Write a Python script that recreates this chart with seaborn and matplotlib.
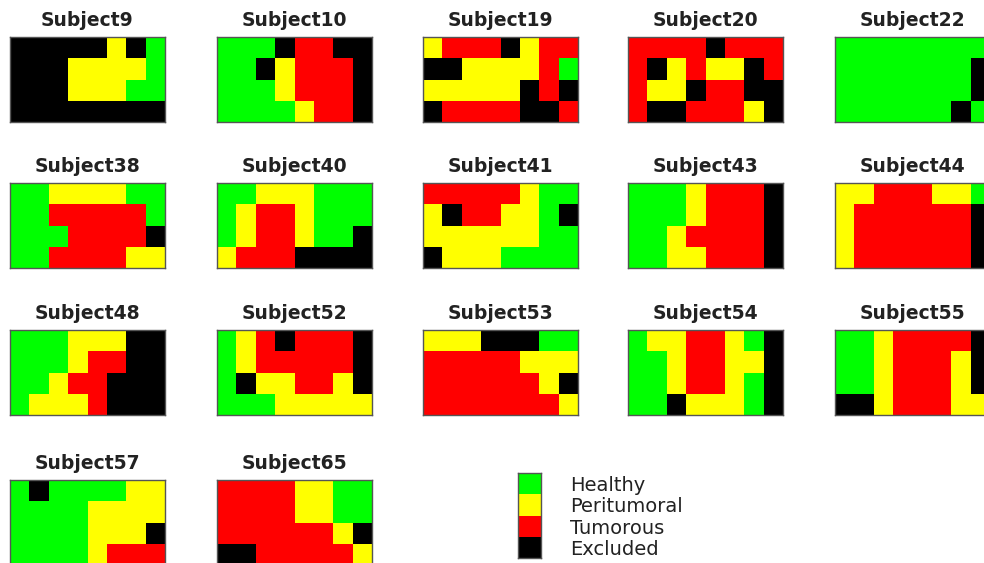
import numpy as np
import matplotlib
matplotlib.use("Agg")
import matplotlib.pyplot as plt
from matplotlib.colors import ListedColormap
import seaborn as sns

sns.set_style("white")
plt.rcParams["font.family"] = ["DejaVu Sans"]

# Tissue classes, in code order 0..3
classes = ["Healthy", "Peritumoral", "Tumorous", "Excluded"]
class_codes = {"H": 0, "P": 1, "T": 2, "E": 3}
class_colors = ["#00ff00", "#ffff00", "#ff0000", "#000000"]

# Per-subject label maps (4 rows x 8 columns, top row first)
subject9 = ["EEEEEPEH", "EEEPPPPH", "EEEPPPHH", "EEEEEEEE"]
subject10 = ["HHHETTEE", "HHEPTTTE", "HHHPTTTE", "HHHHPTTE"]
subject19 = ["PTTTEPTT", "EEPPPPTH", "PPPPPETE", "ETTTTEET"]
subject20 = ["TTTTETTT", "TEPTPPET", "TPPETTEE", "TEETTTPE"]
subject22 = ["HHHHHHHH", "HHHHHHHE", "HHHHHHHE", "HHHHHHEH"]
subject38 = ["HHPPPPHH", "HHTTTTTH", "HHHTTTTE", "HHTTTTPP"]
subject40 = ["HHPPPHHH", "HPTTPHHH", "HPTTPHHE", "PTTTEEEE"]
subject41 = ["TTTTTPHH", "PETTPPHE", "PPPPPPHH", "EPPPHHHH"]
subject43 = ["HHHPTTTE", "HHHPTTTE", "HHPTTTTE", "HHPPTTTE"]
subject44 = ["PPTTTPPH", "PTTTTTTE", "PTTTTTTE", "PTTTTTTE"]
subject48 = ["HHHPPPEE", "HHHPTTEE", "HHPTTEEE", "HPPPTEEE"]
subject52 = ["HPTETTTE", "HPTTTTTE", "HEPPTTPE", "HHHPPPPP"]
subject53 = ["PPPEEEHH", "TTTTTPPP", "TTTTTTPE", "TTTTTTTP"]
subject54 = ["HPPTTPHE", "HHPTTPPE", "HHPTTPHE", "HHEPPPHE"]
subject55 = ["HHPTTTTE", "HHPTTTPE", "HHPTTTPE", "EEPTTTPP"]
subject57 = ["HEHHHHPP", "HHHHPPPP", "HHHHPPPE", "HHHHPTTT"]
subject65 = ["TTTTPPHH", "TTTTPPHH", "TTTTTTPE", "EETTTTTP"]

subject_names = ["Subject9", "Subject10", "Subject19", "Subject20", "Subject22",
                 "Subject38", "Subject40", "Subject41", "Subject43", "Subject44",
                 "Subject48", "Subject52", "Subject53", "Subject54", "Subject55",
                 "Subject57", "Subject65"]
subject_maps = [subject9, subject10, subject19, subject20, subject22,
                subject38, subject40, subject41, subject43, subject44,
                subject48, subject52, subject53, subject54, subject55,
                subject57, subject65]

cmap = ListedColormap(class_colors)

W, H = 984, 563
fig = plt.figure(figsize=(W / 100, H / 100), dpi=100)

col_left = [10, 217, 423, 628, 835]
row_top = [37, 183, 330, 480]
pw, ph = 155, 85


def to_codes(rows):
    return np.array([[class_codes[c] for c in r] for r in rows])


def frame(ax):
    for s in ax.spines.values():
        s.set_visible(True)
        s.set_color("#555555")
        s.set_linewidth(1.0)


for i, (name, rows) in enumerate(zip(subject_names, subject_maps)):
    r, c = divmod(i, 5)
    x0, y0 = col_left[c], row_top[r]
    ax = fig.add_axes([x0 / W, 1 - (y0 + ph) / H, pw / W, ph / H])
    sns.heatmap(to_codes(rows), ax=ax, cmap=cmap, vmin=-0.5, vmax=3.5,
                cbar=False, xticklabels=False, yticklabels=False)
    frame(ax)
    ax.set_title(name, fontsize=13.5, fontweight="bold", color="#222222", pad=8)

# Class key: a one-column map of the four codes with their names beside it
lx, ly, lw, lh = 518, 473, 23, 85
lax = fig.add_axes([lx / W, 1 - (ly + lh) / H, lw / W, lh / H])
sns.heatmap(np.arange(len(classes)).reshape(-1, 1), ax=lax, cmap=cmap,
            vmin=-0.5, vmax=3.5, cbar=False, xticklabels=False,
            yticklabels=classes)
lax.yaxis.tick_right()
lax.tick_params(axis="y", length=0, pad=21, labelsize=14,
                labelcolor="#222222", labelrotation=0)
for t in lax.get_yticklabels():
    t.set_horizontalalignment("left")
    t.set_verticalalignment("center_baseline")
frame(lax)

fig.savefig("out.png", dpi=100)
